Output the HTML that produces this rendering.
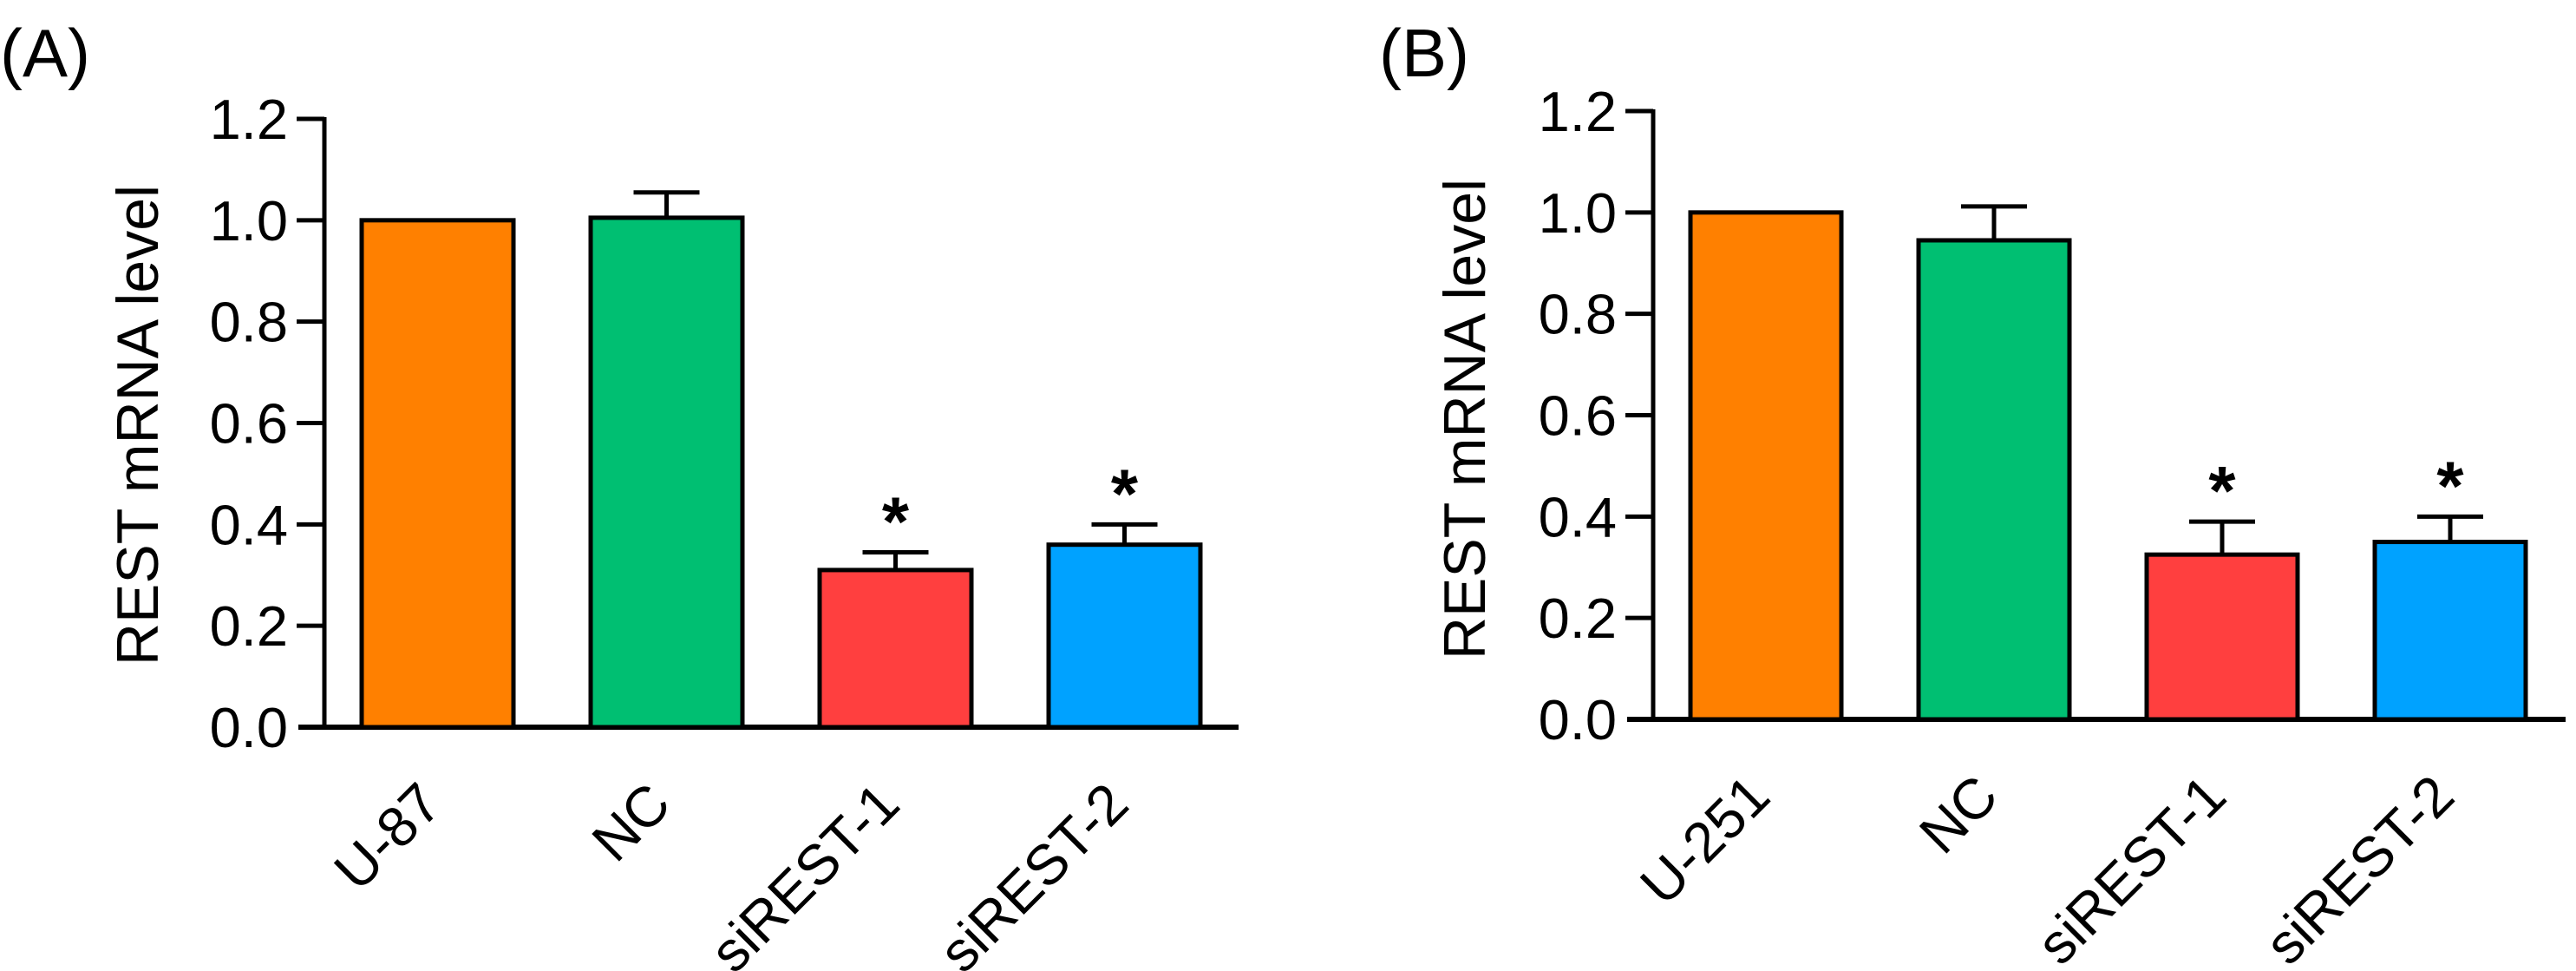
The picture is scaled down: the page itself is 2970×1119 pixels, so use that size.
<!DOCTYPE html>
<html><head><meta charset="utf-8"><style>
html,body{margin:0;padding:0;background:#fff;}
svg{display:block;font-family:"Liberation Sans",Arial,sans-serif;}
</style></head><body>
<svg id="chart" width="2970" height="1119" viewBox="0 0 2970 1119" xmlns="http://www.w3.org/2000/svg">
<text x="0" y="88" font-size="78">(A)</text>
<text x="1590" y="88" font-size="78">(B)</text>
</svg>
<script>
const categoriesA = ["U-87","NC","siREST-1","siREST-2"];
const valuesA = [1.0, 1.005, 0.31, 0.36];
const errorsA = [0, 0.05, 0.035, 0.04];
const sigA = [false, false, true, true];
const categoriesB = ["U-251","NC","siREST-1","siREST-2"];
const valuesB = [1.0, 0.945, 0.325, 0.35];
const errorsB = [0, 0.067, 0.065, 0.05];
const sigB = [false, false, true, true];
const yTicks = ["0.0","0.2","0.4","0.6","0.8","1.0","1.2"];
const colors = ["#ff8000","#00bf72","#ff3f3f","#00a2ff"];

const NS="http://www.w3.org/2000/svg";
const svg=document.getElementById('chart');
function mk(tag,attrs,parent){const e=document.createElementNS(NS,tag);for(const k in attrs)e.setAttribute(k,attrs[k]);(parent||svg).appendChild(e);return e;}

function panel(cfg){
  const g=mk('g',{});
  
  
  const y=v=>cfg.y0-(v/1.2)*(cfg.y0-cfg.y12);
  const xc=i=>cfg.bar0+cfg.bw/2+i*cfg.pitch;
  const ax=mk('line',{x1:cfg.ax,y1:y(1.2)-2,x2:cfg.ax,y2:cfg.y0,stroke:'#000','stroke-width':5},g);
  
  
  const xa=mk('line',{x1:cfg.ax-30,y1:cfg.y0,x2:cfg.xEnd,y2:cfg.y0,stroke:'#000','stroke-width':6},g);
  
  
  yTicks.forEach((t,i)=>{
    const v=parseFloat(t);
    if(i>0){const tk=mk('line',{x1:cfg.ax-32,y1:y(v),x2:cfg.ax,y2:y(v),stroke:'#000','stroke-width':5},g);
      
      }
    const tl=mk('text',{x:cfg.ax-42,y:y(v)+23,'font-size':65,'text-anchor':'end'},g);
    tl.textContent=t;
    
    
  });
  const tt=mk('text',{x:0,y:0,'font-size':68,'text-anchor':'middle',transform:`translate(${cfg.titleX},${cfg.titleY}) rotate(-90)`},g);
  tt.textContent='REST mRNA level';
  
  
  cfg.cats.forEach((c,i)=>{
    const x0=cfg.bar0+i*cfg.pitch, top=y(cfg.vals[i]);
    const r=mk('rect',{x:x0,y:top,width:cfg.bw,height:cfg.y0-top,fill:colors[i],stroke:'#000','stroke-width':5},g);
    
    
    let markTop=top;
    if(cfg.errs[i]>0){
      const et=y(cfg.vals[i]+cfg.errs[i]);
      const el=mk('path',{d:`M${xc(i)},${top} V${et} M${xc(i)-38},${et} H${xc(i)+38}`,stroke:'#000','stroke-width':5,fill:'none'},g);
      
      
      markTop=et;
    }
    if(cfg.sig[i]){
      const s=mk('text',{x:xc(i),y:markTop-8,'font-size':80,'font-weight':'bold','text-anchor':'middle'},g);
      s.textContent='*';
      
      
    }
    const lbl=mk('text',{x:0,y:0,'font-size':65,'text-anchor':'end',transform:`translate(${xc(i)+8},${cfg.y0+92}) rotate(-45)`},g);
    lbl.textContent=c;
    
    
  });
}
panel({name:'panel-a',cats:categoriesA,vals:valuesA,errs:errorsA,sig:sigA,ax:374,y0:838,y12:137,bar0:417,bw:175,pitch:264,xEnd:1428,titleX:182,titleY:490});
panel({name:'panel-b',cats:categoriesB,vals:valuesB,errs:errorsB,sig:sigB,ax:1906,y0:829,y12:128,bar0:1949,bw:174,pitch:263,xEnd:2958,titleX:1712,titleY:483});
</script>
</body></html>
